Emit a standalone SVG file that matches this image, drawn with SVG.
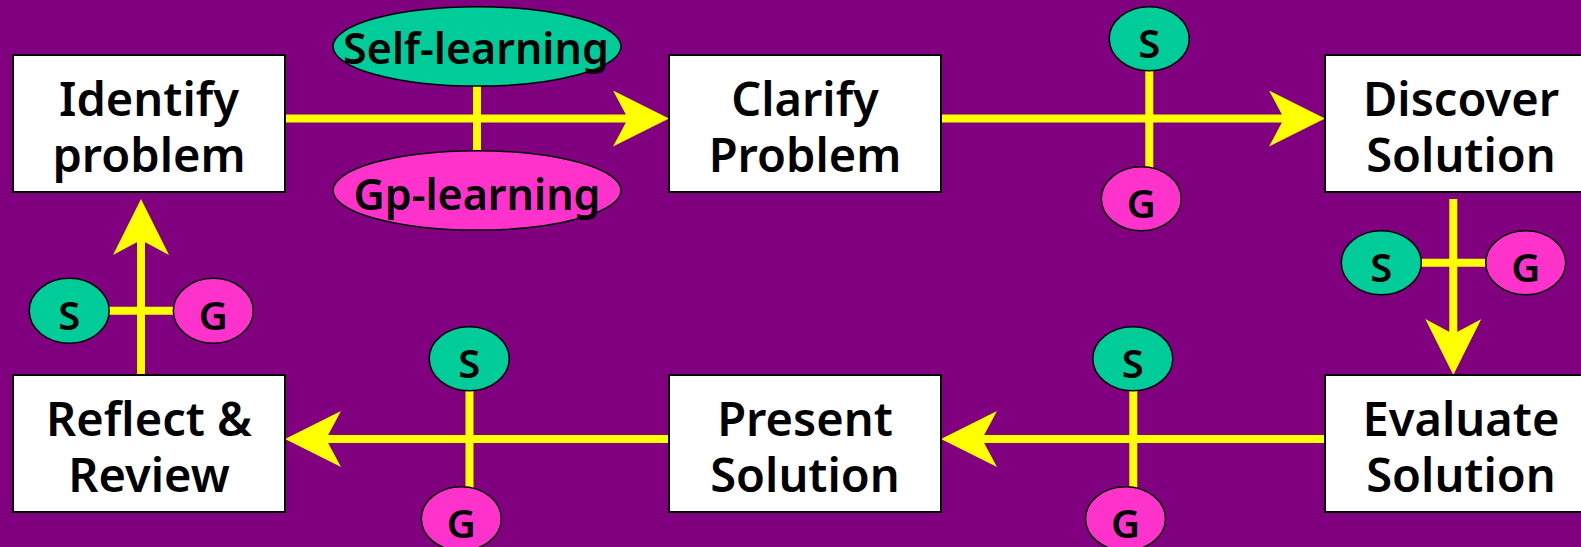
<svg xmlns="http://www.w3.org/2000/svg" width="1581" height="547" viewBox="0 0 1581 547">
<style>
text{font-family:"Noto Sans","Liberation Sans",sans-serif;font-weight:600;fill:#000;text-anchor:middle}
.box{fill:#fff;stroke:#000;stroke-width:2}
.bt{font-size:47px}
.s{fill:#00CC99;stroke:#000;stroke-width:1.5}
.g{fill:#FF33CC;stroke:#000;stroke-width:1.5}
.lt{font-size:40px}
.ll{font-size:43px}
.c{stroke:#FFFF00;stroke-width:8;fill:none}
.a{marker-end:url(#ah)}
</style>
<defs>
<marker id="ah" markerUnits="userSpaceOnUse" viewBox="-15 -28 56 56" refX="0" refY="0" markerWidth="56" markerHeight="56" orient="auto">
<path d="M0,0 L-15,-28 L41,0 L-15,28 Z" fill="#FFFF00"/>
</marker>
</defs>
<rect width="1581" height="547" fill="#800080"/>
<g id="connectors">
<line class="c a" x1="285" y1="118.5" x2="628" y2="118.5"/>
<line class="c a" x1="941" y1="118.5" x2="1284" y2="118.5"/>
<line class="c a" x1="1453.3" y1="199" x2="1453.3" y2="334"/>
<line class="c a" x1="1325" y1="439" x2="982" y2="439"/>
<line class="c a" x1="669" y1="439" x2="326" y2="439"/>
<line class="c a" x1="141" y1="375" x2="141" y2="240"/>
<line class="c" x1="477" y1="84" x2="477" y2="153"/>
<line class="c" x1="1149.3" y1="68" x2="1149.3" y2="169"/>
<line class="c" x1="1420" y1="262.8" x2="1487" y2="262.8"/>
<line class="c" x1="469.5" y1="388" x2="469.5" y2="489"/>
<line class="c" x1="1133.3" y1="388" x2="1133.3" y2="489"/>
<line class="c" x1="107" y1="310.8" x2="175" y2="310.8"/>
</g>
<g id="identify"><rect class="box" x="13" y="55" width="272" height="137"/><text class="bt" x="149" y="116">Identify</text><text class="bt" x="149" y="172">problem</text></g>
<g id="clarify"><rect class="box" x="669" y="55" width="272" height="137"/><text class="bt" x="805" y="116">Clarify</text><text class="bt" x="805" y="172">Problem</text></g>
<g id="discover"><rect class="box" x="1325" y="55" width="272" height="137"/><text class="bt" x="1461" y="116">Discover</text><text class="bt" x="1461" y="172">Solution</text></g>
<g id="evaluate"><rect class="box" x="1325" y="375" width="272" height="137"/><text class="bt" x="1461" y="436">Evaluate</text><text class="bt" x="1461" y="492">Solution</text></g>
<g id="present"><rect class="box" x="669" y="375" width="272" height="137"/><text class="bt" x="805" y="436">Present</text><text class="bt" x="805" y="492">Solution</text></g>
<g id="reflect"><rect class="box" x="13" y="375" width="272" height="137"/><text class="bt" x="149" y="436">Reflect &amp;</text><text class="bt" x="149" y="492">Review</text></g>
<g id="self-learning"><ellipse class="s" cx="477" cy="46.4" rx="144" ry="39.7"/><text class="ll" x="476" y="63.5">Self-learning</text></g>
<g id="gp-learning"><ellipse class="g" cx="477" cy="190.4" rx="144" ry="39.7"/><text class="ll" x="477" y="210">Gp-learning</text></g>
<g id="s1"><ellipse class="s" cx="1149.2" cy="38.7" rx="40" ry="32"/><text class="lt" x="1149.2" y="57.7">S</text></g>
<g id="g1"><ellipse class="g" cx="1141.3" cy="198.7" rx="40" ry="32"/><text class="lt" x="1141.3" y="217.7">G</text></g>
<g id="s2"><ellipse class="s" cx="1381.3" cy="262.8" rx="40" ry="32"/><text class="lt" x="1381.3" y="281.8">S</text></g>
<g id="g2"><ellipse class="g" cx="1525.7" cy="262.8" rx="40" ry="32"/><text class="lt" x="1525.7" y="281.8">G</text></g>
<g id="s3"><ellipse class="s" cx="1132.8" cy="358.7" rx="40" ry="32"/><text class="lt" x="1132.8" y="377.7">S</text></g>
<g id="g3"><ellipse class="g" cx="1125.5" cy="518.7" rx="40" ry="32"/><text class="lt" x="1125.5" y="537.7">G</text></g>
<g id="s4"><ellipse class="s" cx="469.2" cy="358.7" rx="40" ry="32"/><text class="lt" x="469.2" y="377.7">S</text></g>
<g id="g4"><ellipse class="g" cx="461.3" cy="518.7" rx="40" ry="32"/><text class="lt" x="461.3" y="537.7">G</text></g>
<g id="s5"><ellipse class="s" cx="69.2" cy="310.8" rx="40" ry="32.5"/><text class="lt" x="69.2" y="329.8">S</text></g>
<g id="g5"><ellipse class="g" cx="213.3" cy="310.8" rx="40" ry="32.5"/><text class="lt" x="213.3" y="329.8">G</text></g>
</svg>
